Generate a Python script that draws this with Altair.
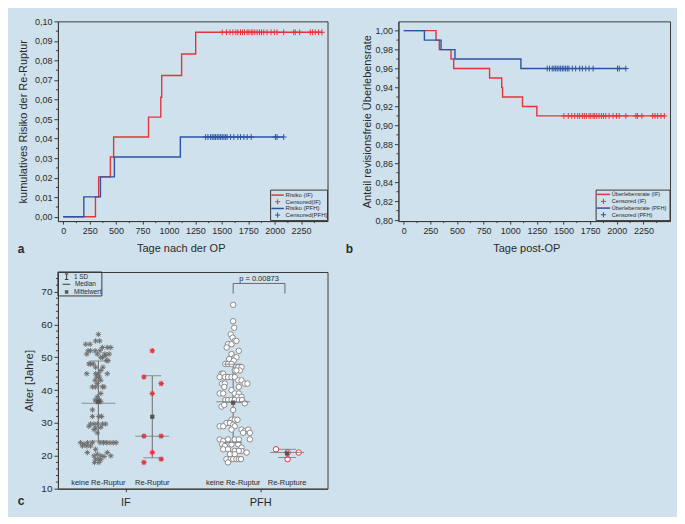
import altair as alt
import pandas as pd

BG = "#cfe1ec"
RED = "#e4353a"
BLUE = "#2c53a3"
GRAY = "#6b6b6b"
DARK = "#3a3a3a"
TXT = "#2a2a2a"
FONT = "Liberation Sans"
PLUS = "M-1,0L1,0M0,-1L0,1"
ASTER = "M-1,0L1,0M0,-1L0,1M-0.7,-0.7L0.7,0.7M-0.7,0.7L0.7,-0.7"

# ---------------- panel a / b : Kaplan-Meier data ----------------
if_days = [0, 305, 335, 446, 477, 807, 923, 932, 1120, 1253, 2444]
if_risk = [0.0, 0.0102, 0.0204, 0.0306, 0.0408, 0.0510, 0.0612, 0.0723, 0.0833, 0.0944, 0.0944]
pfh_days = [0, 195, 352, 484, 1108, 2085]
pfh_risk = [0.0, 0.0102, 0.0204, 0.0306, 0.0408, 0.0408]

if_surv_days = [0, 303, 334, 444, 469, 806, 920, 928, 1115, 1250, 2444]
if_surv = [1.00, 0.99, 0.98, 0.97, 0.96, 0.95, 0.94, 0.93, 0.92, 0.91, 0.91]
pfh_surv_days = [0, 194, 350, 481, 1100, 2085]
pfh_surv = [1.00, 0.99, 0.98, 0.97, 0.96, 0.96]

if_censored_days = [1504, 1545, 1577, 1605, 1633, 1652, 1677, 1696, 1715, 1740, 1756,
                    1778, 1793, 1812, 1834, 1856, 1875, 1897, 1928, 1966, 1997, 2023,
                    2085, 2180, 2195, 2236, 2337, 2359, 2384, 2415, 2447]
pfh_censored_days = [1347, 1369, 1394, 1410, 1426, 1441, 1457, 1473, 1489, 1504, 1520,
                     1536, 1551, 1583, 1614, 1652, 1677, 1709, 1740, 1778, 2007, 2023, 2085]

x_ticks = [0, 250, 500, 750, 1000, 1250, 1500, 1750, 2000, 2250]
x_minor = [125, 375, 625, 875, 1125, 1375, 1625, 1875, 2125, 2375]
a_yticks = [0.00, 0.01, 0.02, 0.03, 0.04, 0.05, 0.06, 0.07, 0.08, 0.09, 0.10]
a_yminor = [0.005, 0.015, 0.025, 0.035, 0.045, 0.055, 0.065, 0.075, 0.085, 0.095]
b_yticks = [0.80, 0.82, 0.84, 0.86, 0.88, 0.90, 0.92, 0.94, 0.96, 0.98, 1.00]
b_yminor = [0.81, 0.83, 0.85, 0.87, 0.89, 0.91, 0.93, 0.95, 0.97, 0.99]

a_legend_labels = ["Risiko (IF)", "Censored(IF)", "Risiko (PFH)", "Censored(PFH)"]
b_legend_labels = ["Überlebensrate (IF)", "Censored (IF)", "Überlebensrate (PFH)", "Censored (PFH)"]
legend_kinds = ["line", "plus", "line", "plus"]
legend_colors = [RED, RED, BLUE, BLUE]

# ---------------- panel c : ages ----------------
groups = ["IF", "PFH"]
group_pos = [2.5, 7.5]
sub_labels = ["keine Re-Ruptur", "Re-Ruptur", "keine Re-Ruptur", "Re-Rupture"]
sub_pos = [1.5, 3.5, 6.5, 8.5]

if_keine_off = [0, -0.10, 0.05, -0.47, -0.31, -0.38, 0.15, 0.33, 0.46, -0.29,
                -0.12, 0.06, 0.24, 0.40, 0.27, -0.43, -0.04, -0.35, -0.29, -0.19,
                0.36, 0.31, 0.15, 0.09, -0.10, 0.09, 0.17, -0.43, 0.33, -0.10,
                0.00, -0.06, 0.04, -0.12, 0.09, -0.04, -0.22, -0.10, 0.15, 0.21,
                0.09, -0.04, -0.12, -0.06, 0.04, 0.09, -0.22, -0.22, 0.02, 0.12,
                -0.29, -0.16, -0.04, 0.15, 0.27, -0.35, -0.10, 0.09, -0.16, -0.04,
                -0.66, -0.53, -0.40, -0.22, 0.06, 0.19, 0.31, 0.43, 0.55, 0.66,
                -0.59, -0.43, -0.29, -0.10, -0.41, 0.33, -0.04, -0.16, 0.09, 0.46,
                0.21, -0.10, 0.02, 0.09, -0.14, 0.02]
if_keine_age = [57, 55, 55, 54, 54, 52, 53, 53, 53, 52,
                52, 52, 51, 51, 50.5, 51, 51, 48, 48, 48,
                49, 49, 50, 50, 47, 46, 47, 45, 45, 45,
                45, 44, 44, 43, 43, 42, 41, 41, 41, 41,
                39, 38, 37, 36.5, 37, 36.5, 34, 32, 32, 32,
                29.7, 29.7, 29.7, 29.7, 29.7, 29, 28.5, 28.7, 28, 27,
                24, 23.6, 24, 24, 24, 24, 24, 24, 24, 24,
                23, 23, 23, 22, 21, 21, 20.5, 20, 20, 20,
                19.8, 19, 19, 18.8, 18, 18]
if_re_off = [-0.31, 0.0, -0.31, 0.0, 0.33, -0.31, 0.33, 0.0, 0.33]
if_re_age = [18, 52, 44, 39, 42, 26, 26, 21, 19]
pfh_keine_off = [0, 0, 0.04, -0.09, -0.02, 0.06, -0.19, -0.06, 0.12, -0.24,
                 0.21, -0.06, 0.06, 0.12, -0.15, 0.02, -0.29, -0.19, -0.06, 0.19,
                 0.31, 0.25, 0.06, 0.12, -0.43, -0.37, -0.50, -0.31, -0.19, -0.06,
                 0.06, 0.19, 0.31, 0.43, 0.53, -0.41, -0.31, -0.33, 0.21, -0.06,
                 -0.50, -0.37, 0.06, 0.21, 0.16, 0.31, -0.29, -0.19, -0.06, 0.06,
                 0.21, 0.33, -0.43, -0.33, 0.43, 0, -0.06, 0.06, 0.16, -0.25,
                 -0.12, -0.50, -0.37, 0, 0.06, 0.31, 0.43, 0.56, 0.62, 0.37,
                 -0.06, -0.50, -0.37, -0.19, 0.06, 0.21, 0.62, -0.41, -0.31, -0.06,
                 0.19, 0.31, -0.37, -0.19, 0.31, 0.06, 0.21, 0.50, -0.12, 0.06,
                 -0.25, -0.09, 0, 0.12, 0.21, 0.29, -0.19]
pfh_keine_age = [66, 61, 59, 57, 56, 55, 54, 54, 55, 53,
                 52, 51, 50, 50, 49.5, 49, 48, 48, 48, 47,
                 47, 46, 46, 46, 45, 45, 44, 44, 44, 44,
                 44, 43, 43, 42, 42, 42, 42, 41, 41, 40,
                 39, 39, 39, 39, 38, 38, 37, 37, 37, 37,
                 37, 37, 35, 35.5, 36, 34, 31, 31, 31, 30,
                 30, 29, 29, 29.5, 29, 28, 27.5, 28, 27, 27,
                 28, 25, 24.5, 25, 25, 25, 25, 23.5, 23, 23.5,
                 23.5, 22.5, 22, 22, 21.5, 21.5, 21.5, 21, 20.5, 20.5,
                 19, 19, 19, 19, 19, 19, 18]
pfh_re_off = [-0.41, 0.02, 0.43, 0.02]
pfh_re_age = [22, 21, 21, 19]

mean_age = [36.5, 31.9, 36.2, 20.75]
median_age = [36, 26, 36.5, 21]
sd_low = [24.5, 19.4, 24.1, 19.5]
sd_high = [48.9, 44.4, 47.9, 22]
c_yticks = [10, 20, 30, 40, 50, 60, 70]
c_yminor = [12, 14, 16, 18, 22, 24, 26, 28, 32, 34, 36, 38, 42, 44, 46, 48,
            52, 54, 56, 58, 62, 64, 66, 68, 72, 74]
p_bracket_x = [6.5, 8.42]
p_bracket_y = [72.5, 69.4]
p_label = "p = 0.00873"
p_label_pos = [7.46, 74.0]

H_TOP, H_C = 200, 217
W_A, W_B, W_C = 270, 272, 270

one = pd.DataFrame({"k": [0]})


def px_rule(x, x2, y, y2, color=DARK, width=1.0):
    return alt.Chart(one).mark_rule(color=color, strokeWidth=width).encode(
        x=alt.value(x), x2=alt.value(x2), y=alt.value(y), y2=alt.value(y2))


def px_text(txt, x, y, size, align="left", weight="normal"):
    return alt.Chart(one).mark_text(text=txt, fontSize=size, align=align, baseline="middle",
                                    fontWeight=weight, color=TXT, font=FONT).encode(
        x=alt.value(x), y=alt.value(y))


def px_rect(x, x2, y, y2, stroke=None):
    if stroke:
        m = alt.Chart(one).mark_rect(fill=BG, fillOpacity=0, stroke=stroke, strokeWidth=1)
    else:
        m = alt.Chart(one).mark_rect(fill=BG, strokeWidth=0)
    return m.encode(x=alt.value(x), x2=alt.value(x2), y=alt.value(y), y2=alt.value(y2))


def km_panel(w, curves, cens, ydom, yticks, yminor, ytitle, ytitle_x, xtitle, xtitle_x,
             leg_labels, leg_box, leg_rows, leg_icon, leg_text_x, leg_font, letter, letter_x, guard):
    xs = alt.Scale(domain=[-50, 2500], nice=False, zero=False)
    ys = alt.Scale(domain=ydom, nice=False, zero=False)
    col = alt.Color("grp:N", scale=alt.Scale(domain=["IF", "PFH"], range=[RED, BLUE]), legend=None)
    xaxis = alt.Axis(values=x_ticks, tickCount=40, format="d", title=xtitle, titleX=xtitle_x, titleY=27,
                     titleBaseline="middle", titleAlign="center", tickSize=3, labelPadding=2,
                     labelFontSize=9, labelOverlap=False)
    yaxis = alt.Axis(values=yticks, tickCount=40,
                     labelExpr="replace(format(datum.value, '.2f'), '.', ',')",
                     title=ytitle, titleX=ytitle_x, titleY=H_TOP / 2, titleAngle=270,
                     titleBaseline="middle", titleAlign="center", tickSize=4, labelPadding=2,
                     labelFontSize=9, labelOverlap=False)
    layers = [
        alt.Chart(curves).mark_line(interpolate="step-after", strokeWidth=1.4).encode(
            x=alt.X("day:Q", scale=xs, axis=xaxis), y=alt.Y("val:Q", scale=ys, axis=yaxis), color=col),
        alt.Chart(cens).mark_point(shape=PLUS, size=34, strokeWidth=1, filled=False, opacity=1).encode(
            x="day:Q", y="val:Q", color=col),
        alt.Chart(pd.DataFrame({"day": x_minor})).mark_rule(color=DARK, strokeWidth=1).encode(
            x="day:Q", y=alt.value(H_TOP), y2=alt.value(H_TOP + 2)),
        alt.Chart(pd.DataFrame({"val": yminor})).mark_rule(color=DARK, strokeWidth=1).encode(
            y="val:Q", x=alt.value(0), x2=alt.value(-2)),
    ]
    x0, x1, y0, y1 = leg_box
    layers.append(px_rect(x0, x1, y0, y1, stroke=DARK))
    for lab, kind, c, yy in zip(leg_labels, legend_kinds, legend_colors, leg_rows):
        if kind == "line":
            layers.append(px_rule(leg_icon[0], leg_icon[1], yy, yy, c, 1.5))
        else:
            layers.append(alt.Chart(one).mark_point(shape=PLUS, size=26, filled=False, strokeWidth=1,
                                                    color=c, opacity=1).encode(
                x=alt.value((leg_icon[0] + leg_icon[1]) / 2), y=alt.value(yy)))
        layers.append(px_text(lab, leg_text_x, yy, leg_font))
    layers.append(px_text(letter, letter_x, 228, 12, align="center", weight="bold"))
    if guard:
        layers.append(px_rect(-49, -48, -12, -11))
    return alt.layer(*layers).properties(width=w, height=H_TOP)


curves_a = pd.DataFrame({"day": if_days + pfh_days, "val": if_risk + pfh_risk,
                         "grp": ["IF"] * len(if_days) + ["PFH"] * len(pfh_days)})
cens_a = pd.DataFrame({"day": if_censored_days + pfh_censored_days,
                       "val": [if_risk[-1]] * len(if_censored_days) + [pfh_risk[-1]] * len(pfh_censored_days),
                       "grp": ["IF"] * len(if_censored_days) + ["PFH"] * len(pfh_censored_days)})
curves_b = pd.DataFrame({"day": if_surv_days + pfh_surv_days, "val": if_surv + pfh_surv,
                         "grp": ["IF"] * len(if_surv_days) + ["PFH"] * len(pfh_surv_days)})
cens_b = pd.DataFrame({"day": if_censored_days + pfh_censored_days,
                       "val": [if_surv[-1]] * len(if_censored_days) + [pfh_surv[-1]] * len(pfh_censored_days),
                       "grp": ["IF"] * len(if_censored_days) + ["PFH"] * len(pfh_censored_days)})

panel_a = km_panel(W_A, curves_a, cens_a, [-0.0022, 0.10], a_yticks, a_yminor,
                   "kumulatives Risiko der Re-Ruptur", -34, "Tage nach der OP", 123,
                   a_legend_labels, (213, 270, 169, 199.5), [174, 180.7, 187.4, 194],
                   (213.7, 226.3), 228, 6, "a", -37, True)
panel_b = km_panel(W_B, curves_b, cens_b, [0.799, 1.0098], b_yticks, b_yminor,
                   "Anteil revisionsfreie Überlebensrate", -31, "Tage post-OP", 128,
                   b_legend_labels, (198, 272, 169, 199.5), [173.3, 180.3, 187, 193.7],
                   (198.7, 212), 213.7, 5.6, "b", -49, False)

# ---------------- panel c ----------------
xs_c = alt.Scale(domain=[0, 10], nice=False, zero=False)
ys_c = alt.Scale(domain=[10, 76], nice=False, zero=False)
c_xaxis = alt.Axis(values=group_pos, tickCount=40,
                   labelExpr=f"datum.value == {group_pos[0]} ? '{groups[0]}' : '{groups[1]}'",
                   title=None, tickSize=3, labelPadding=5, labelFontSize=11, labelOverlap=False)
c_yaxis = alt.Axis(values=c_yticks, tickCount=40, format="d", title="Alter [Jahre]", titleX=-28,
                   titleY=H_C / 2, titleAngle=270, titleBaseline="middle", titleAlign="center",
                   titleFontSize=11.5, tickSize=4, labelPadding=2, labelFontSize=10, labelOverlap=False)

sd_df = pd.DataFrame({"x": sub_pos, "y": sd_low, "y2": sd_high})
cap_df = pd.DataFrame({"x": sub_pos + sub_pos, "y": sd_low + sd_high})
med_df = pd.DataFrame({"x": sub_pos, "y": median_age})
mean_df = pd.DataFrame({"x": sub_pos, "y": mean_age})
sub_df = pd.DataFrame({"x": sub_pos, "y": [11.7] * 4, "t": sub_labels})


def pts(offs, ages, center):
    return pd.DataFrame({"x": [center + o for o in offs], "y": ages})


c_layers = [
    alt.Chart(sd_df).mark_rule(color=GRAY, strokeWidth=1).encode(
        x=alt.X("x:Q", scale=xs_c, axis=c_xaxis), y=alt.Y("y:Q", scale=ys_c, axis=c_yaxis), y2="y2:Q"),
    alt.Chart(pd.DataFrame({"y": c_yminor})).mark_rule(color=DARK, strokeWidth=1).encode(
        y="y:Q", x=alt.value(0), x2=alt.value(-2)),
    alt.Chart(pts(if_keine_off, if_keine_age, sub_pos[0])).mark_point(
        shape=ASTER, size=30, strokeWidth=1, filled=False, color="#6f6f6f", opacity=1).encode(x="x:Q", y="y:Q"),
    alt.Chart(pts(if_re_off, if_re_age, sub_pos[1])).mark_point(
        shape=ASTER, size=30, strokeWidth=1.1, filled=False, color=RED, opacity=1).encode(x="x:Q", y="y:Q"),
    alt.Chart(pts(pfh_keine_off, pfh_keine_age, sub_pos[2])).mark_point(
        shape="circle", size=30, strokeWidth=1, filled=True, fill="white", stroke="#8a8a8a",
        opacity=1).encode(x="x:Q", y="y:Q"),
    alt.Chart(pts(pfh_re_off, pfh_re_age, sub_pos[3])).mark_point(
        shape="circle", size=30, strokeWidth=1, filled=True, fill="white", stroke=RED,
        opacity=1).encode(x="x:Q", y="y:Q"),
    alt.Chart(cap_df).mark_tick(orient="horizontal", size=18, thickness=1, color=GRAY).encode(
        x="x:Q", y="y:Q"),
    alt.Chart(med_df).mark_tick(orient="horizontal", size=34, thickness=1, color=GRAY).encode(
        x="x:Q", y="y:Q"),
    alt.Chart(mean_df).mark_point(shape="square", size=18, filled=True, color="#555555", opacity=1).encode(
        x="x:Q", y="y:Q"),
    alt.Chart(sub_df).mark_text(fontSize=7.5, color=TXT, baseline="middle").encode(
        x="x:Q", y="y:Q", text="t:N"),
    alt.Chart(pd.DataFrame({"x": [p_bracket_x[0]], "x2": [p_bracket_x[1]], "y": [p_bracket_y[0]]})).mark_rule(
        color=GRAY, strokeWidth=1).encode(x="x:Q", x2="x2:Q", y="y:Q"),
    alt.Chart(pd.DataFrame({"x": p_bracket_x, "y": [p_bracket_y[0]] * 2, "y2": [p_bracket_y[1]] * 2})).mark_rule(
        color=GRAY, strokeWidth=1).encode(x="x:Q", y="y:Q", y2="y2:Q"),
    alt.Chart(pd.DataFrame({"x": [p_label_pos[0]], "y": [p_label_pos[1]], "t": [p_label]})).mark_text(
        fontSize=7.5, color=TXT, baseline="middle").encode(x="x:Q", y="y:Q", text="t:N"),
    # legend box
    px_rect(0, 44, 0, 24, stroke=DARK),
    px_rule(8.7, 8.7, 2, 7.5, DARK),
    px_rule(7, 10.5, 2, 2, DARK),
    px_rule(7, 10.5, 7.5, 7.5, DARK),
    px_text("1 SD", 16, 4.7, 6.4),
    px_rule(4.7, 12.3, 12.3, 12.3, DARK),
    px_text("Median", 17, 12.3, 6.4),
    alt.Chart(one).mark_point(shape="square", size=12, filled=True, color="#555555", opacity=1).encode(
        x=alt.value(8.7), y=alt.value(20)),
    px_text("Mittelwert", 16, 20, 6.4),
    px_text("c", -37, 229, 12, align="center", weight="bold"),
    px_rect(618, 619, 243, 244),
]
panel_c = alt.layer(*c_layers).properties(width=W_C, height=H_C)

chart = alt.concat(
    panel_a, panel_b, panel_c, columns=2,
    spacing={"row": 51, "column": 71}, bounds="flush"
).properties(
    background=BG, padding=0, autosize=alt.AutoSizeParams(type="pad")
).configure(font=FONT).configure_view(
    stroke=DARK, strokeWidth=1
).configure_axis(
    labelFont=FONT, titleFont=FONT, labelColor=TXT, titleColor=TXT, domainColor=DARK,
    tickColor=DARK, grid=False, titleFontSize=11, titleFontWeight="normal", labelOverlap=False
)

chart.save("out.html", embed_options={"renderer": "svg", "actions": False})
